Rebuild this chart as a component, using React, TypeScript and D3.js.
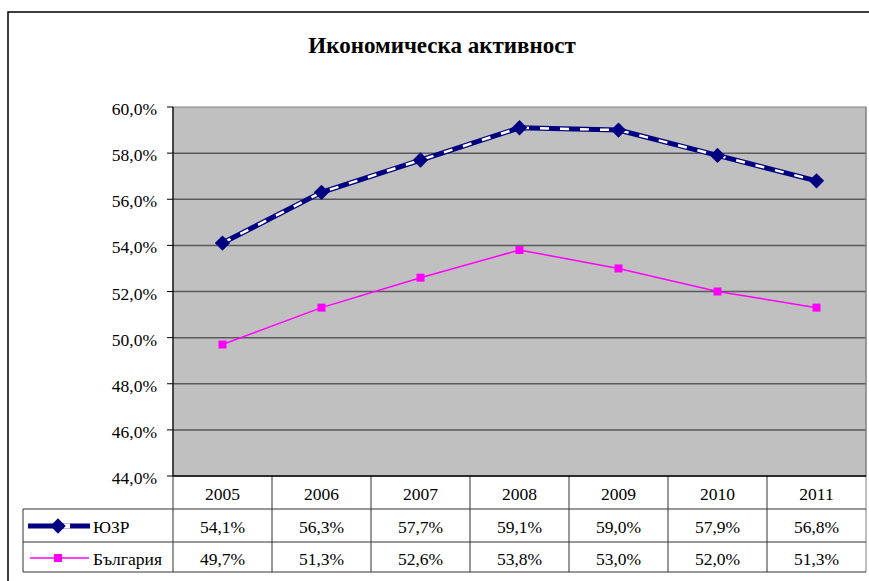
import React from 'react';
import * as d3 from 'd3';

const years = ['2005', '2006', '2007', '2008', '2009', '2010', '2011'];
const yuzrValues = [54.1, 56.3, 57.7, 59.1, 59.0, 57.9, 56.8];
const bgValues = [49.7, 51.3, 52.6, 53.8, 53.0, 52.0, 51.3];
const yTicks = [44, 46, 48, 50, 52, 54, 56, 58, 60];
const seriesNames = ['ЮЗР', 'България'];
const title = 'Икономическа активност';

const W = 869;
const H = 581;
const plot = { left: 173, right: 866, top: 107, bottom: 476 };
const rowH = [33, 33, 30];
const tableLeft = 23;
const tf = { fontFamily: 'Liberation Serif, Tinos, serif' };
const fs = 17.5;

const fmt = (v: number) => v.toFixed(1).replace('.', ',') + '%';

export default function App() {
  const x = d3.scaleBand().domain(years).range([plot.left, plot.right]);
  const y = d3.scaleLinear().domain([44, 60]).range([plot.bottom, plot.top]);
  const cx = (yr: string) => (x(yr) as number) + x.bandwidth() / 2;

  const line = d3.line<number>()
    .x((_, i) => cx(years[i]))
    .y(d => y(d));

  const r1 = plot.bottom + rowH[0];
  const r2 = r1 + rowH[1];
  const r3 = r2 + rowH[2];

  const diamond = d3.symbol().type(d3.symbolDiamond2).size(150)();
  const square = d3.symbol().type(d3.symbolSquare).size(64)();

  return (
    <svg width={W} height={H} style={{ position: 'absolute', left: 0, top: 0, background: '#fff' }}>
      {/* outer chart border, cut at right and bottom */}
      <rect x={8} y={12} width={1000} height={1000} fill="none" stroke="#000" strokeWidth={1.5} />

      <text x={442} y={53} textAnchor="middle" fontSize={23} fontWeight="bold" style={tf}>{title}</text>

      {/* plot area */}
      <rect x={plot.left} y={plot.top} width={plot.right - plot.left} height={plot.bottom - plot.top}
        fill="#c0c0c0" stroke="#808080" strokeWidth={1} />
      {yTicks.map(t => (
        <g key={t}>
          {t > 44 && t < 60 && (
            <line x1={plot.left} x2={plot.right} y1={y(t)} y2={y(t)} stroke="#5a5a5a" strokeWidth={1.5} />
          )}
          <line x1={plot.left - 6} x2={plot.left} y1={y(t)} y2={y(t)} stroke="#000" strokeWidth={1} />
          <text x={157} y={y(t) + 8} textAnchor="end" fontSize={fs} style={tf}>{fmt(t)}</text>
        </g>
      ))}
      <line x1={plot.left} x2={plot.left} y1={plot.top} y2={plot.bottom} stroke="#000" strokeWidth={1.2} />

      {/* series */}
      <path d={line(bgValues) || ''} fill="none" stroke="#ff00ff" strokeWidth={1.5} />
      {bgValues.map((v, i) => (
        <path key={i} d={square || ''} transform={`translate(${cx(years[i])},${y(v)})`} fill="#ff00ff" />
      ))}
      <path d={line(yuzrValues) || ''} fill="none" stroke="#000080" strokeWidth={5} />
      <path d={line(yuzrValues) || ''} fill="none" stroke="#ffffff" strokeWidth={2.5} strokeDasharray="9 11" />
      {yuzrValues.map((v, i) => (
        <path key={i} d={diamond || ''} transform={`translate(${cx(years[i])},${y(v)})`} fill="#000080" />
      ))}

      {/* data table */}
      <g stroke="#333" strokeWidth={1}>
        <line x1={plot.left} x2={plot.left} y1={plot.bottom} y2={r3} />
        <line x1={tableLeft} x2={tableLeft} y1={r1} y2={r3} />
        <line x1={plot.right} x2={plot.right} y1={plot.top} y2={r3} stroke="#808080" />
        {years.slice(1).map(yr => (
          <line key={yr} x1={x(yr)} x2={x(yr)} y1={plot.bottom} y2={r3} />
        ))}
        <line x1={tableLeft} x2={plot.right} y1={r1} y2={r1} />
        <line x1={tableLeft} x2={plot.right} y1={r2} y2={r2} />
        <line x1={tableLeft} x2={plot.right} y1={r3} y2={r3} />
      </g>
      <line x1={plot.left} x2={plot.right} y1={plot.bottom} y2={plot.bottom} stroke="#000" strokeWidth={1.5} />

      {years.map((yr, i) => (
        <g key={yr}>
          <text x={cx(yr)} y={plot.bottom + 24} fontSize={fs} textAnchor="middle" style={tf}>{yr}</text>
          <text x={cx(yr)} y={r1 + 24} fontSize={fs} textAnchor="middle" style={tf}>{fmt(yuzrValues[i])}</text>
          <text x={cx(yr)} y={r2 + 23} fontSize={fs} textAnchor="middle" style={tf}>{fmt(bgValues[i])}</text>
        </g>
      ))}

      {/* legend keys */}
      <line x1={28} x2={90} y1={r1 + 17} y2={r1 + 17} stroke="#000080" strokeWidth={5} />
      <line x1={64} x2={70} y1={r1 + 17} y2={r1 + 17} stroke="#ffffff" strokeWidth={5} />
      <path d={diamond || ''} transform={`translate(58,${r1 + 17})`} fill="#000080" />
      <text x={93} y={r1 + 24} fontSize={fs} style={tf}>{seriesNames[0]}</text>
      <line x1={30} x2={89} y1={r2 + 16} y2={r2 + 16} stroke="#ff00ff" strokeWidth={1.5} />
      <path d={square || ''} transform={`translate(58,${r2 + 16})`} fill="#ff00ff" />
      <text x={93} y={r2 + 23} fontSize={fs} style={tf}>{seriesNames[1]}</text>
    </svg>
  );
}
